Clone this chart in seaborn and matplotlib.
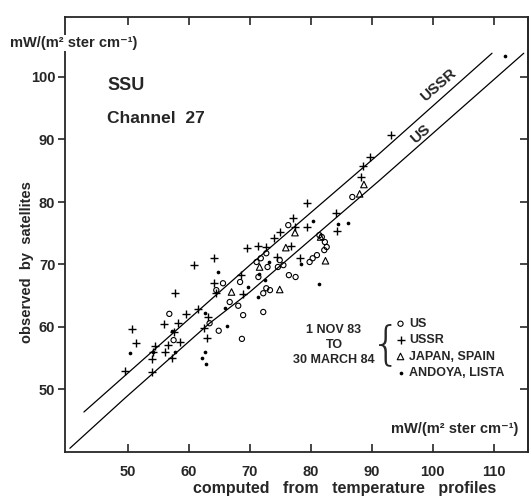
import numpy as np
import pandas as pd
import matplotlib
matplotlib.use("Agg")
import matplotlib.pyplot as plt
import seaborn as sns

# --- data (mW/(m2 ster cm-1)) ---
ussr_x = [64.1, 60.9, 57.7, 64.1, 64.5, 61.5, 59.6, 63.2, 62.5, 63.0, 56.0, 58.2, 57.5, 58.5, 56.6,
          54.4, 56.1, 57.2, 54.1, 54.0, 54.0, 50.7, 51.3, 49.5, 68.6, 68.9, 89.7, 88.6, 88.2, 79.4,
          77.1, 79.4, 84.1, 84.3, 77.4, 74.9, 74.0, 72.7, 71.4, 69.6, 76.8, 74.4, 78.2, 93.2]
ussr_y = [71.0, 69.9, 65.5, 67.0, 65.4, 62.8, 62.1, 61.6, 59.9, 58.2, 60.4, 60.6, 59.2, 57.6, 57.1,
          57.0, 56.0, 55.0, 56.0, 54.8, 52.8, 59.7, 57.4, 53.0, 68.3, 65.2, 87.2, 85.8, 84.0, 79.9,
          77.4, 76.0, 78.2, 75.4, 76.0, 75.2, 74.2, 72.8, 72.9, 72.7, 72.9, 71.2, 71.0, 90.7]

us_x = [65.6, 68.4, 64.5, 66.7, 68.1, 68.9, 63.4, 64.9, 68.7, 56.8, 57.5, 86.8, 76.3, 81.4, 81.8,
        82.3, 82.6, 82.2, 72.7, 71.1, 71.8, 74.9, 75.5, 74.6, 72.9, 79.8, 80.3, 81.0, 76.4, 77.5,
        71.4, 72.2, 72.7, 73.3, 72.2]
us_y = [67.0, 67.2, 65.9, 64.0, 63.4, 61.9, 60.6, 59.4, 58.1, 62.1, 57.9, 80.8, 76.3, 74.7, 74.4,
        73.6, 72.8, 72.3, 71.8, 70.4, 71.0, 70.7, 69.9, 69.6, 69.6, 70.4, 71.0, 71.5, 68.3, 68.0,
        68.0, 65.4, 66.2, 65.9, 62.4]

jp_x = [67.0, 88.7, 88.0, 77.4, 81.6, 75.9, 82.4, 71.6, 74.9]
jp_y = [65.6, 82.8, 81.3, 75.1, 74.4, 72.7, 70.6, 69.6, 66.0]

an_x = [64.8, 69.7, 65.9, 66.3, 62.6, 62.6, 62.2, 62.8, 57.2, 57.7, 54.1, 50.3, 80.3, 84.5, 86.1,
        73.2, 78.4, 71.5, 81.3, 71.3, 72.5, 111.9]
an_y = [68.8, 66.4, 63.0, 60.2, 62.3, 56.0, 55.1, 54.0, 59.4, 56.0, 56.0, 55.9, 76.9, 76.4, 76.6,
        70.4, 70.1, 68.5, 66.8, 64.8, 67.5, 103.4]

# regression lines for the two instrument groups
us_line_x = [40.5, 49.5, 63.4, 70.0, 91.3, 114.9]
us_line_y = [40.6, 48.6, 60.6, 65.6, 83.5, 103.8]
ussr_line_x = [42.8, 48.7, 70.0, 91.3, 109.7]
ussr_line_y = [46.4, 51.5, 69.9, 87.8, 103.8]

xticks = [50, 60, 70, 80, 90, 100, 110]
yticks = [50, 60, 70, 80, 90, 100]

sns.set_style("ticks")
plt.rcParams['font.family'] = ['Liberation Sans', 'DejaVu Sans']
plt.rcParams['font.weight'] = 'bold'

fig = plt.figure(figsize=(5.31, 5.0), dpi=100)
ax = fig.add_axes([65 / 531, 48 / 500, 463 / 531, 435 / 500])

sns.lineplot(x=us_line_x, y=us_line_y, ax=ax, color='black', lw=0.9, sort=False)
sns.lineplot(x=ussr_line_x, y=ussr_line_y, ax=ax, color='black', lw=0.9, sort=False)

sns.scatterplot(x=us_x, y=us_y, ax=ax, marker='o', s=14, facecolor='none',
                edgecolor='black', linewidth=0.8, label='US')
sns.scatterplot(x=ussr_x, y=ussr_y, ax=ax, marker='+', s=34, color='black',
                linewidth=1.0, label='USSR')
sns.scatterplot(x=jp_x, y=jp_y, ax=ax, marker='^', s=22, facecolor='none',
                edgecolor='black', linewidth=0.8, label='JAPAN, SPAIN')
sns.scatterplot(x=an_x, y=an_y, ax=ax, marker='o', s=7, color='black',
                edgecolor='black', linewidth=0, label='ANDOYA, LISTA')

ax.set_xlim(39.7, 115.6)
ax.set_ylim(40, 109.6)
ax.set_xticks(xticks)
ax.set_yticks(yticks)
ax.set_xlabel('')
ax.set_ylabel('')
ax.tick_params(axis='x', direction='in', top=True, bottom=True, length=6, width=1.2,
               labelsize=10.5, pad=9)
ax.tick_params(axis='y', direction='out', left=True, length=5, width=1.2,
               labelsize=10.5, pad=2)
sec = ax.secondary_yaxis('right')
sec.set_yticks(yticks)
sec.tick_params(direction='in', length=6, width=1.2, labelright=False)
for sp in list(ax.spines.values()) + [sec.spines['right']]:
    sp.set_linewidth(1.3)
for lab in ax.get_xticklabels() + ax.get_yticklabels():
    lab.set_fontweight('bold')

# line labels
ax.text(101.0, 98.7, 'USSR', rotation=41, ha='center', va='center', fontsize=11, fontweight='bold')
ax.text(97.9, 90.9, 'US', rotation=41, ha='center', va='center', fontsize=11, fontweight='bold')

ax.text(46.6, 98.7, 'SSU', ha='left', va='center', fontsize=13, fontweight='bold')
ax.text(46.6, 93.4, 'Channel  27', ha='left', va='center', fontsize=12.5, fontweight='bold')

units = 'mW/(m² ster cm⁻¹)'
fig.text(10 / 531, 1 - 43 / 500, units, ha='left', va='center', fontsize=10.5,
         fontweight='bold', bbox=dict(facecolor='white', edgecolor='none', pad=1))
fig.text(518 / 531, 1 - 429 / 500, units, ha='right', va='center', fontsize=10.5,
         fontweight='bold')

fig.text(345 / 531, 1 - 488 / 500, 'computed   from   temperature   profiles', ha='center',
         va='center', fontsize=11.5, fontweight='bold')
fig.text(27 / 531, 1 - 262 / 500, 'observed  by  satellites', rotation=90, ha='center',
         va='center', fontsize=10.5, fontweight='bold')

# legend with date note and brace
ax.legend(loc='upper left', bbox_to_anchor=((388 - 65) / 463, (452 - 313) / 435),
          frameon=False, handletextpad=0.1, labelspacing=0.35,
          borderaxespad=0, handlelength=1.2, prop={'weight': 'bold', 'size': 9})
fig.text(334 / 531, 1 - 330 / 500, '1 NOV 83', ha='center', va='center', fontsize=9, fontweight='bold')
fig.text(334 / 531, 1 - 345 / 500, 'TO', ha='center', va='center', fontsize=9, fontweight='bold')
fig.text(334 / 531, 1 - 360 / 500, '30 MARCH 84', ha='center', va='center', fontsize=9, fontweight='bold')
fig.text(386 / 531, 1 - 345 / 500, '{', ha='center', va='center', fontsize=34,
         fontweight='light', family='DejaVu Sans')

fig.savefig('out.png', dpi=100)
